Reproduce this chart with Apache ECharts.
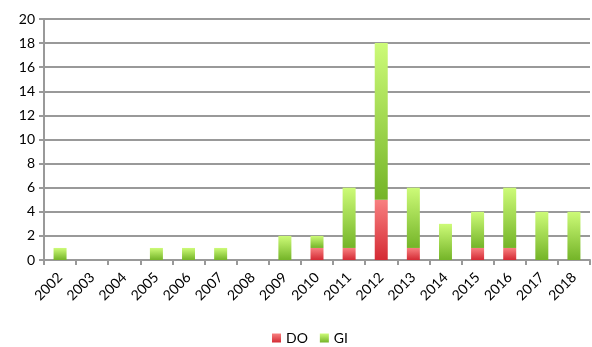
<!DOCTYPE html>
<html>
<head>
<meta charset="utf-8">
<script src="https://cdn.jsdelivr.net/npm/echarts@6/dist/echarts.min.js"></script>
<style>
  html, body { margin: 0; padding: 0; background: #fff; }
</style>
</head>
<body>
<div id="main" style="width:592px;height:347px;"></div>
<script>
var years = ['2002', '2003', '2004', '2005', '2006', '2007', '2008', '2009', '2010',
  '2011', '2012', '2013', '2014', '2015', '2016', '2017', '2018'];
var doValues = [0, 0, 0, 0, 0, 0, 0, 0, 1, 1, 5, 1, 0, 1, 1, 0, 0];
var giValues = [1, 0, 0, 1, 1, 1, 0, 2, 1, 5, 13, 5, 3, 3, 5, 4, 4];
var yTicks = [0, 2, 4, 6, 8, 10, 12, 14, 16, 18, 20];

var font = 'Lato, "Open Sans", sans-serif';

function grad(top, bottom) {
  return new echarts.graphic.LinearGradient(0, 0, 0, 1, [
    { offset: 0, color: top },
    { offset: 1, color: bottom }
  ]);
}

var chart = echarts.init(document.getElementById('main'));
var option = {
  animation: false,
  grid: {
    left: 44,
    right: 2,
    top: 19,
    bottom: 87
  },
  legend: {
    top: 331,
    left: 272,
    padding: 0,
    itemWidth: 9,
    itemHeight: 9,
    itemGap: 12,
    icon: 'rect',
    textStyle: { fontFamily: font, fontSize: 14, color: '#000' },
    data: ['DO', 'GI']
  },
  xAxis: {
    type: 'category',
    data: years,
    axisLine: { lineStyle: { color: '#999', width: 2 } },
    axisTick: { show: true, interval: 0, length: 5, lineStyle: { color: '#999', width: 2 } },
    axisLabel: {
      interval: 0,
      rotate: 45,
      margin: 15,
      fontFamily: font,
      fontSize: 14,
      color: '#000'
    }
  },
  yAxis: {
    type: 'value',
    min: yTicks[0],
    max: yTicks[yTicks.length - 1],
    interval: 2,
    axisLine: { show: true, lineStyle: { color: '#999', width: 2 } },
    axisTick: { show: true, length: 5, lineStyle: { color: '#999', width: 2 } },
    splitLine: { lineStyle: { color: '#999', width: 2 } },
    axisLabel: { fontFamily: font, fontSize: 14, color: '#000', margin: 9 }
  },
  series: [
    {
      name: 'DO',
      type: 'bar',
      stack: 'total',
      barWidth: 13,
      data: doValues,
      itemStyle: { color: grad('#f88080', '#d42a34') }
    },
    {
      name: 'GI',
      type: 'bar',
      stack: 'total',
      barWidth: 13,
      data: giValues,
      itemStyle: { color: grad('#cdfb78', '#74b428') }
    }
  ]
};
chart.setOption(option);
</script>
</body>
</html>
